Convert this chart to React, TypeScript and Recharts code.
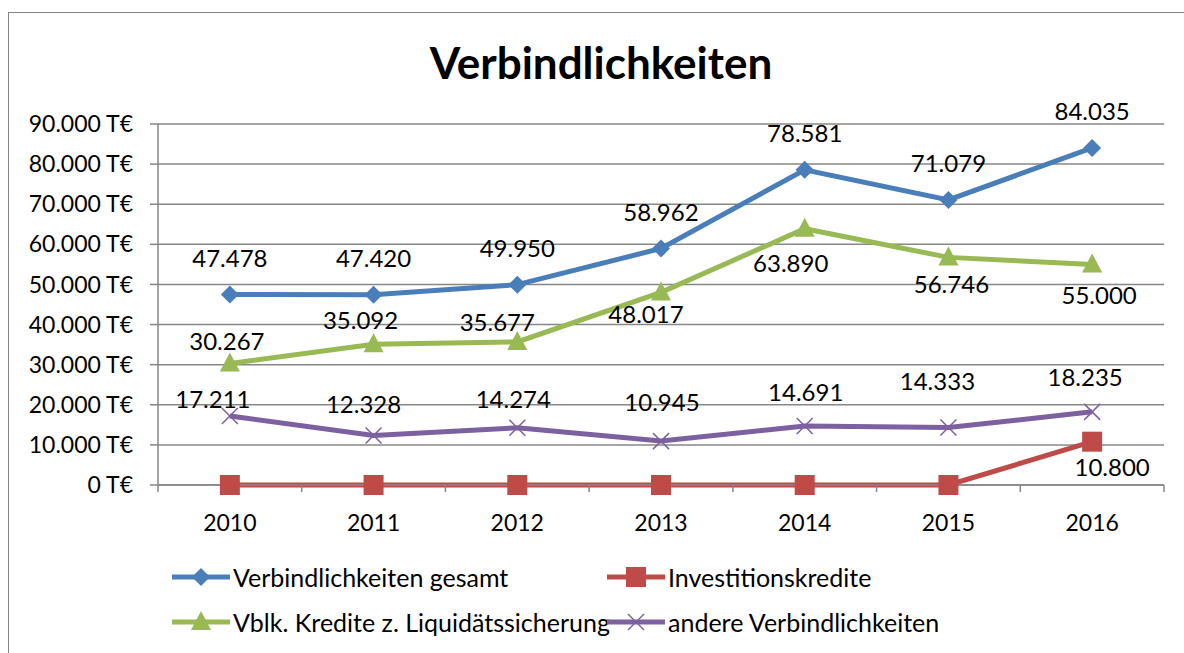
import React from "react";
import { LineChart, Line, XAxis, YAxis, CartesianGrid, LabelList } from "recharts";

const years = ["2010", "2011", "2012", "2013", "2014", "2015", "2016"];
const gesamt = [47478, 47420, 49950, 58962, 78581, 71079, 84035];
const investition = [0, 0, 0, 0, 0, 0, 10800];
const liquiditaet = [30267, 35092, 35677, 48017, 63890, 56746, 55000];
const andere = [17211, 12328, 14274, 10945, 14691, 14333, 18235];
const yTicks = [0, 10000, 20000, 30000, 40000, 50000, 60000, 70000, 80000, 90000];

const data = years.map((year, i) => ({
  year,
  gesamt: gesamt[i],
  investition: investition[i],
  liquiditaet: liquiditaet[i],
  andere: andere[i],
}));

// label offsets from each point, [dx, dy] (labels were nudged by hand in the original)
const labelOffsets: Record<string, [number, number][]> = {
  gesamt: [[0, -37], [0, -37], [0, -37], [0, -37], [0, -37], [0, -37], [0, -37]],
  investition: [[0, 0], [0, 0], [0, 0], [0, 0], [0, 0], [0, 0], [20, 25]],
  liquiditaet: [[-3, -23], [-13, -25], [-20, -20], [-15, 21], [-14, 34], [3, 26], [7, 30]],
  andere: [[-17, -17], [-10, -32], [-4, -29], [1, -40], [1, -35], [-11, -47], [-7, -35]],
};

const W = 1184;
const H = 653;
const M = { top: 124, right: 20, bottom: 108, left: 0 };
const Y_AXIS_W = 158;
const PLOT_W = W - M.left - M.right - Y_AXIS_W;
const BAND = PLOT_W / years.length;

const FONT = "Lato, 'Open Sans', sans-serif";
const GRID = "#878787";

const COLORS = {
  gesamt: "#4a7ebb",
  investition: "#be4b48",
  liquiditaet: "#98b954",
  andere: "#7d60a0",
};

const fmt = (v: number) => String(v).replace(/\B(?=(\d{3})+(?!\d))/g, ".");

function Marker({ kind, cx, cy, color }: { kind: string; cx: number; cy: number; color: string }) {
  if (kind === "diamond") {
    const r = 9;
    return <polygon points={`${cx},${cy - r} ${cx + r},${cy} ${cx},${cy + r} ${cx - r},${cy}`} fill={color} />;
  }
  if (kind === "square") {
    const r = 10;
    return <rect x={cx - r} y={cy - r} width={2 * r} height={2 * r} fill={color} />;
  }
  if (kind === "triangle") {
    return <polygon points={`${cx},${cy - 11} ${cx + 10},${cy + 8} ${cx - 10},${cy + 8}`} fill={color} />;
  }
  const r = 8;
  return (
    <g stroke={color} strokeWidth={1.5}>
      <line x1={cx - r} y1={cy - r} x2={cx + r} y2={cy + r} />
      <line x1={cx - r} y1={cy + r} x2={cx + r} y2={cy - r} />
    </g>
  );
}

const makeDot = (kind: string, color: string) => (props: any) => {
  const { cx, cy, index } = props;
  if (cx == null || cy == null) return <g key={index} />;
  return <Marker key={index} kind={kind} cx={cx} cy={cy} color={color} />;
};

const makeLabel = (key: string) => (props: any) => {
  const { x, y, value, index } = props;
  if (!value) return null;
  const [dx, dy] = labelOffsets[key][index];
  return (
    <text
      x={x + dx}
      y={y + dy}
      textAnchor="middle"
      dominantBaseline="central"
      fontFamily={FONT}
      fontSize={24}
      fill="#000"
    >
      {fmt(value)}
    </text>
  );
};

const XTick = (props: any) => {
  const { x, y, payload, index } = props;
  return (
    <g>
      <line x1={x - BAND / 2} x2={x - BAND / 2} y1={y} y2={y + 7} stroke={GRID} strokeWidth={1.5} />
      {index === years.length - 1 && (
        <line x1={x + BAND / 2} x2={x + BAND / 2} y1={y} y2={y + 7} stroke={GRID} strokeWidth={1.5} />
      )}
      <text x={x} y={y + 37} textAnchor="middle" dominantBaseline="central" fontFamily={FONT} fontSize={23} fill="#000">
        {payload.value}
      </text>
    </g>
  );
};

const series = [
  { key: "gesamt", name: "Verbindlichkeiten gesamt", kind: "diamond" },
  { key: "investition", name: "Investitionskredite", kind: "square" },
  { key: "liquiditaet", name: "Vblk. Kredite z. Liquidätssicherung", kind: "triangle" },
  { key: "andere", name: "andere Verbindlichkeiten", kind: "x" },
];

const legendPos = [
  { left: 172, top: 577 },
  { left: 607, top: 577 },
  { left: 172, top: 622 },
  { left: 607, top: 622 },
];

export default function App() {
  return (
    <div style={{ position: "absolute", left: 0, top: 0, width: W, height: H, overflow: "hidden", background: "#fff" }}>
      <div
        style={{
          position: "absolute",
          left: 8,
          top: 12,
          width: W,
          height: H,
          borderLeft: `1.5px solid ${GRID}`,
          borderTop: `1.5px solid ${GRID}`,
        }}
      />
      <div
        style={{
          position: "absolute",
          left: 9,
          width: W,
          top: 37,
          textAlign: "center",
          fontFamily: FONT,
          fontWeight: 700,
          fontSize: 44,
          lineHeight: "50px",
          color: "#000",
        }}
      >
        Verbindlichkeiten
      </div>
      <div style={{ position: "absolute", left: 0, top: 0 }}>
        <LineChart width={W} height={H} data={data} margin={M}>
          <CartesianGrid vertical={false} stroke={GRID} strokeWidth={1.5} />
          <XAxis
            dataKey="year"
            height={60}
            padding={{ left: BAND / 2, right: BAND / 2 }}
            axisLine={{ stroke: GRID, strokeWidth: 1.5 }}
            tickLine={false}
            tickSize={0}
            tickMargin={0}
            tick={<XTick />}
            interval={0}
          />
          <YAxis
            width={Y_AXIS_W}
            domain={[0, 90000]}
            ticks={yTicks}
            interval={0}
            axisLine={{ stroke: GRID, strokeWidth: 1.5 }}
            tickLine={{ stroke: GRID, strokeWidth: 1.5 }}
            tickSize={8}
            tickMargin={17}
            tickFormatter={(v: number) => `${fmt(v)} T€`}
            tick={{ fontFamily: FONT, fontSize: 23, fill: "#000" }}
          />
          {series.map((s) => (
            <Line
              key={s.key}
              type="linear"
              dataKey={s.key}
              name={s.name}
              stroke={COLORS[s.key as keyof typeof COLORS]}
              strokeWidth={5}
              dot={makeDot(s.kind, COLORS[s.key as keyof typeof COLORS])}
              activeDot={false}
              isAnimationActive={false}
            >
              <LabelList dataKey={s.key} content={makeLabel(s.key)} />
            </Line>
          ))}
        </LineChart>
      </div>
      {series.map((s, i) => {
        const color = COLORS[s.key as keyof typeof COLORS];
        return (
          <div
            key={s.key}
            style={{
              position: "absolute",
              left: legendPos[i].left,
              top: legendPos[i].top - 16,
              height: 32,
              display: "flex",
              alignItems: "center",
              fontFamily: FONT,
              fontSize: 25,
              color: "#000",
              whiteSpace: "nowrap",
            }}
          >
            <svg width={60} height={32} style={{ marginRight: 1 }}>
              <line x1={0} x2={58} y1={16} y2={16} stroke={color} strokeWidth={5} />
              <Marker kind={s.kind} cx={29} cy={16} color={color} />
            </svg>
            {s.name}
          </div>
        );
      })}
    </div>
  );
}
